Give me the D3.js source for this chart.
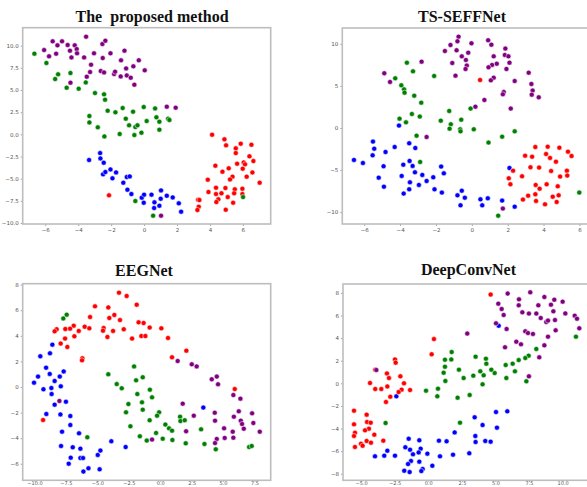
<!DOCTYPE html>
<html><head><meta charset="utf-8">
<script src="https://cdn.jsdelivr.net/npm/d3@7"></script>
<style>body{margin:0;background:#fff;}svg{display:block;}</style>
</head><body>
<svg id="c" width="587" height="487"></svg>
<script>
// ---------- DATA (t-SNE embeddings) ----------
const classColors = ["#0000ff", "#ff0000", "#008000", "#800080"]; // blue, red, green, purple

// The proposed method
const propBlue = [[-3.34,-2.89],[-2.67,-2.11],[-2.65,-2.71],[-2.45,-3.2],[-2.49,-4.51],[-2.35,-4.25],[-2.04,-3.95],[-1.92,-4.96],[-1.7,-4.29],[-1.26,-5.45],[-1.05,-4.81],[-0.87,-4.74],[-1.01,-6.24],[-0.77,-6.73],[-0.14,-7.14],[0,-6.8],[-0.02,-7.71],[0.45,-6.8],[0.63,-7.67],[0.61,-8.31],[0.93,-8.05],[1.01,-7.26],[1.03,-6.32],[1.38,-6.92],[1.74,-7.11],[2.11,-7.78],[2.25,-8.72]];
const propRed = [[-2.13,-6.88],[4.13,-0.04],[4.88,-0.56],[4.98,-1.24],[5.57,-1.58],[5.57,-2.11],[5.87,-1.05],[6.52,-1.17],[6.4,-2.48],[6.64,-3.01],[6.05,-3.16],[6.13,-3.38],[5.99,-3.87],[5.65,-3.31],[4.33,-3.53],[5.14,-3.83],[4.76,-4.21],[5.37,-4.77],[5.22,-5.08],[6.23,-4.77],[6.58,-4.29],[3.87,-5.11],[7.02,-5.45],[3.91,-6.5],[4.37,-6.02],[4.37,-6.73],[4.51,-7.33],[4.7,-6.65],[4.39,-7.63],[4.94,-6.05],[5.08,-7.07],[5.51,-6.2],[5.47,-6.65],[5.41,-7.71],[5.97,-6.13],[5.97,-6.73],[3.28,-7.37],[3.32,-8.16],[3.24,-8.53],[3.36,-7.41],[4.96,-8.5]];
const propGreen = [[-6.66,9.1],[-5.93,8.05],[-5.4,6.24],[-5.22,6.77],[-4.47,6.92],[-4.7,5.26],[-3.97,5.15],[-3.54,5.86],[-2.98,4.66],[-2.43,4.51],[-2.37,3.91],[-2.21,2.67],[-1.74,2.48],[-1.3,2.97],[-3.32,2.07],[-3.32,1.35],[-2.81,0.79],[-2.41,-0.23],[-1.48,0.04],[-1.11,1.77],[-0.91,1.02],[-0.67,2.56],[-0.53,0.83],[-0.4,1.02],[-0.59,-0.08],[-0.16,0.19],[-0.02,3.08],[0.16,1.5],[0.67,2.93],[0.75,1.92],[0.93,1.43],[0.93,0.53],[1.46,1.77],[1.54,1.62],[-0.53,-7.52],[0.55,-9.17],[6.01,-7.07]];
const propPurple = [[-6.07,9.51],[-5.77,8.8],[-5.55,10.49],[-5.34,9.1],[-5.26,10.04],[-4.98,10.49],[-4.64,10.08],[-4.5,9.44],[-4.41,8.68],[-4.21,10.04],[-4.09,9.62],[-4.07,9.14],[-4.47,5.83],[-3.64,8.68],[-3.52,11.02],[-3.48,6.5],[-3.28,7.03],[-3.22,7.86],[-3.04,9.14],[-2.63,7.14],[-2.51,8.61],[-2.53,10.19],[-2.43,6.99],[-2.35,10.56],[-2.04,9.14],[-1.82,6.8],[-1.76,7.07],[-1.42,6.54],[-1.4,8.35],[-1.19,9.44],[-1.09,7.44],[-1.05,6.65],[-0.81,6.39],[-0.65,7.67],[-0.59,5.6],[-0.32,8.35],[0.04,7.22],[1.38,3.12],[1.92,3.01],[1.03,-9.17]];

// TS-SEFFNet
const tsBlue = [[-6.57,-3.8],[-6.07,-4.16],[-5.51,-1.62],[-5.44,-2.46],[-5.53,-3.25],[-4.81,-2.85],[-5.19,-5.9],[-4.92,-4.55],[-4.9,-6.97],[-4.3,-2.26],[-4.06,0.28],[-3.49,-1.82],[-3.15,-2.38],[-3.47,-3.92],[-3.82,-4.36],[-3.3,-4.51],[-3.17,-5.27],[-3.91,-5.7],[-2.76,-5.58],[-3.45,-6.46],[-2.95,-6.77],[-2.52,-6.3],[-2.15,-5.86],[-3.49,-7.29],[-3.8,-7.8],[-2.08,-7.29],[-1.67,-7.68],[-1.71,-4.59],[-1.56,-5.39],[-0.8,-8],[-0.56,-7.45],[-0.39,-8.28],[-0.63,-9.19],[0.48,-8.48],[0.58,-9.19],[0.89,-8.36],[1.69,-8.63],[2.1,-4.75],[2.39,-9.35]];
const tsRed = [[0.46,5.7],[2.97,-3.29],[3.36,-3.41],[3.54,-2.26],[4.23,-2.22],[4.14,-3.09],[4.36,-3.56],[4.88,-2.34],[5.36,-2.81],[5.56,-3.33],[4.69,-4],[3.27,-4.67],[3.75,-4.71],[4.42,-5.11],[5.3,-5.07],[5.32,-5.66],[4.92,-5.78],[2.8,-5.74],[2.3,-5.07],[2.06,-5.98],[2.15,-6.69],[3.56,-6.77],[3.78,-7.21],[4.17,-6.69],[4.79,-6.93],[3.54,-7.88],[3.14,-8.04],[2.85,-8.51],[3.58,-8.67],[4.08,-9.07],[4.51,-8.16],[4.73,-8.79],[4.84,-8]];
const tsGreen = [[-3.62,7.76],[-3.28,6.73],[-4.27,5.9],[-3.93,5.07],[-3.78,4.59],[-3.75,4.2],[-3.21,3.84],[-2.82,3.01],[-2.1,6.18],[-4.03,1.11],[-3.67,0.67],[-3.34,1.66],[-2.9,1.35],[-3.08,-0.91],[-2.88,-4.04],[-1.26,2.02],[-1.17,0.44],[-1.73,0.87],[-1.24,-0.08],[-0.65,-0.16],[-0.63,-0.4],[-0.59,0.99],[-0.07,2.3],[0.11,-0.16],[1.69,-1.03],[2.39,-0.4],[0.93,-1.74],[1.47,-10.42],[5.99,-7.68]];
const tsPurple = [[-0.74,10.85],[-0.8,10.3],[-1.19,9.86],[-1.5,9.15],[-0.85,9.23],[-0.2,8.95],[-0.56,8.51],[-0.33,8.08],[-0.28,7.41],[-0.35,7.01],[-1.09,7.72],[-0.91,6.22],[-0.02,10.06],[0.91,10.42],[1.09,9.9],[1.87,9.43],[1.84,8.67],[2.04,8.51],[1.22,8.51],[2.1,7.76],[1.39,7.64],[1.13,7.49],[0.93,7.21],[1.93,7.01],[1.22,5.98],[1.06,5.66],[2.39,5.58],[1.78,4.28],[1.73,4],[0.7,3.33],[0.2,2.53],[2.17,2.3],[3.17,6.57],[3.32,5.23],[3.39,4.44],[3.34,3.96],[3.73,3.64],[-2.8,7.88],[-4.88,6.5],[-4.56,5.47],[-2.52,-1.07],[1.73,-9.58]];

// EEGNet
const eegBlue = [[-8.58,3.31],[-8.77,2.63],[-9.54,2.4],[-9.08,1.51],[-7.68,1.22],[-8.79,1.02],[-7.99,0.81],[-9.72,0.81],[-8.4,0.47],[-10.04,0.34],[-8.66,-0.08],[-7.91,0.05],[-9.29,-0.18],[-8.64,-0.55],[-8.4,-1.38],[-7.5,-1.15],[-9.06,-2.11],[-7.94,-2.14],[-7.15,-2.27],[-7.15,-2.97],[-7.81,-3.49],[-6.46,-3.62],[-7.89,-4.61],[-6.96,-4.71],[-6.35,-4.82],[-3.89,-4.24],[-2.75,-4.69],[-7.12,-5.52],[-6.35,-5.55],[-6.14,-5.55],[-4.97,-5.31],[-4.76,-4.97],[-7.28,-5.99],[-5.71,-6.35],[-6.11,-6.61],[-4.82,-6.43],[3.43,-1.61]];
const eegRed = [[-3.28,7.37],[-2.67,7.11],[-1.87,6.43],[-5.19,6.3],[-4.13,6.22],[-3.65,5.63],[-5.58,5.47],[-4.05,5.39],[-3.2,5.23],[-6.88,4.79],[-6.01,4.71],[-4.5,4.61],[-1.72,5.05],[-1.32,5],[-0.84,4.64],[0.09,4.58],[-5.64,4.58],[-4.55,4.4],[-3.75,4.38],[-2.9,4.51],[-6.48,4.38],[-7.17,4.56],[-7.55,4.53],[-8.24,4.51],[-8.4,4.35],[-6.83,3.96],[-7.57,3.78],[-4.2,3.91],[-2.24,3.78],[-1.5,3.98],[-1.18,3.98],[0.62,3.83],[-7.92,3.39],[-7.39,3.13],[-6.19,2.24],[-6.22,2.08],[0.94,2.32],[2.08,2.84],[-9.32,-2.58],[5.93,-0.16]];
const eegGreen = [[-7.71,5.36],[-7.44,5.65],[-4.13,0.99],[-3.46,0.23],[-3.06,-0.1],[-2.08,1.61],[-1.92,0.52],[-1.39,0.76],[-1.82,-0.55],[-0.82,-0.21],[-0.65,-0.81],[-2.53,-1.33],[-1.45,-1.2],[-1.39,-1.77],[-2.72,-1.98],[-0.84,-2.6],[-0.09,-1.98],[-0.25,-2.24],[-2.37,-3.07],[-1.62,-3.85],[-1.07,-4.19],[-0.33,-3.59],[0.41,-2.94],[0.7,-3.23],[0.94,-3.41],[0.2,-4.04],[0.97,-4.14],[1.58,-2.32],[1.61,-2.66],[1.95,-2.6],[2.03,-4.4],[3.25,-3.31],[3.52,-4.45],[4.42,-4.87],[7.07,-4.69],[7.28,-4.61],[-5.8,-3.93]];
const eegPurple = [[1.39,2.03],[2.51,1.77],[2.9,1.61],[4.1,0.6],[4.5,0.81],[4.6,0.21],[-8.02,-1.09],[1.79,-1.3],[2.67,-2.24],[2.06,-3.46],[4.34,-2.01],[4.36,-2.63],[5.08,-3.23],[5.77,-3.49],[5.82,-0.63],[6.38,-0.91],[6.25,-1.9],[5.86,-2.32],[6.41,-2.63],[6.51,-2.89],[6.65,-3.26],[7.31,-2.06],[7.41,-2.81],[7.92,-3.49],[4.5,-4.06],[4.36,-4.38],[5.13,-3.98],[5.82,-3.96],[-0.65,-4.11]];

// DeepConvNet
const dcBlue = [[5.24,5.1],[-2.38,-1.15],[5.04,-2.54],[5.88,-2.48],[5.11,-3.92],[4.04,-3.69],[3.45,-3.01],[3.5,-4.66],[3.52,-5.19],[4.24,-5.1],[4.64,-5.16],[1.96,-4.34],[3.05,-6.19],[1.84,-6.31],[1.36,-5.13],[0.79,-5.07],[0.87,-6.46],[0.3,-7.29],[-0.07,-6.22],[-0.67,-5.04],[-1.46,-4.9],[-1.71,-5.66],[-1.36,-5.87],[-0.57,-5.78],[-0.72,-6.11],[-1.14,-6.28],[-1.29,-6.87],[-0.67,-6.93],[-1.51,-7.14],[-1.79,-7.73],[-1.39,-7.85],[-0.42,-7.58],[-0.52,-7.76],[-2.48,-6.4],[-3.05,-5.96],[-3.28,-6.4],[-3.97,-6.46]];
const dcRed = [[4.64,7.85],[0.42,3.92],[0.25,2.57],[-2.48,2.12],[-2.43,1.83],[-3.95,1.21],[-3.08,0.88],[-2.93,0.47],[-2.08,0.62],[-4.34,0.03],[-1.81,0],[-3.95,-0.5],[-3.5,-0.5],[-3.05,-0.27],[-1.99,-0.56],[-2.21,-0.77],[-1.36,-0.59],[-2.83,-1.18],[-3.15,-1.65],[-5.53,-2.42],[-5.53,-3.63],[-4.59,-2.77],[-4.56,-3.42],[-4.29,-3.48],[-4.42,-4.01],[-5.46,-4.37],[-5.53,-4.66],[-4.71,-4.16],[-4.02,-4.54],[-4.59,-5.1],[-5.01,-5.34],[-4.89,-5.52],[-4.27,-5.25],[-5.46,-5.63],[-3.35,-5.07]];
const dcGreen = [[10.99,4.13],[8.04,3.04],[7.47,2.45],[7.22,2.24],[6.73,2.06],[6.28,1.74],[5.76,1.62],[6.45,1.06],[5.81,0.47],[7.3,0.18],[4.94,0.91],[4.69,1.21],[4.29,2.18],[4.32,1.74],[3.52,2.36],[3.87,1.06],[4.12,0.71],[4.04,-0.09],[3.35,0.68],[3.08,-1.03],[2.28,1.21],[2.63,0.47],[2.18,-1.27],[1.74,2.77],[1.71,2.12],[1.24,2.09],[1.24,1.47],[1.14,0.94],[1.27,0.21],[0.72,-0.47],[0.67,-1.15],[-0.17,-0.65],[2.36,-3.48],[-3.18,-3.51]];
const dcPurple = [[5.91,7.94],[7.59,8.05],[5.21,7.05],[5.46,6.58],[6.75,7.43],[6.73,6.9],[5.61,6.05],[7,6.28],[7.49,6.17],[8.64,7.64],[8.19,6.9],[9.38,7.4],[9.13,6.96],[10,7.23],[8.04,6.17],[8.37,5.78],[8.78,5.43],[8.91,5.55],[9.31,6.37],[9.43,5.6],[10.2,6.19],[10.9,5.99],[11.07,5.72],[11.24,4.87],[9.48,4.69],[8.91,4.13],[5.04,5.31],[5.83,4.81],[7.22,4.6],[7.42,4.45],[7.79,4.37],[6.55,3.69],[6.9,3.45],[5.71,3.19],[8.64,3.36],[8.26,2.3],[7.49,0.62],[2.9,4.4],[-3.87,1.18]];

// Titles and tick values
const titles = ["The  proposed method", "TS-SEFFNet", "EEGNet", "DeepConvNet"];
const propXTicks = [-6,-4,-2,0,2,4,6];
const propYTicks = [10,7.5,5,2.5,0,-2.5,-5,-7.5,-10];
const tsXTicks = [-6,-4,-2,0,2,4,6];
const tsYTicks = [10,5,0,-5,-10];
const eegXTicks = [-10,-7.5,-5,-2.5,0,2.5,5,7.5];
const eegYTicks = [8,6,4,2,0,-2,-4,-6];
const dcXTicks = [-5,-2.5,0,2.5,5,7.5,10];
const dcYTicks = [8,6,4,2,0,-2,-4,-6,-8];

// ---------- LAYOUT ----------
const panels = [
  {title: titles[0], series: [propBlue, propRed, propGreen, propPurple], order:[0,1,2,3],
   xd: [-7.37, 7.69], yd: [-10.11, 12.03], box: [22.7, 27.7, 270.7, 224], tx: 152, ty: 21.5,
   xt: propXTicks, yt: propYTicks, xf: d3.format(".0f"), yf: d3.format(".1f"), bottom: false},
  {title: titles[1], series: [tsBlue, tsRed, tsGreen, tsPurple], order:[0,1,2,3],
   xd: [-7.22, 7.87], yd: [-11.41, 11.88], box: [342.3, 28, 613, 224], tx: 462, ty: 21.5,
   xt: tsXTicks, yt: tsYTicks, xf: d3.format(".0f"), yf: d3.format(".0f"), bottom: false},
  {title: titles[2], series: [eegBlue, eegRed, eegGreen, eegPurple], order:[0,1,2,3],
   xd: [-10.94, 8.79], yd: [-7.29, 8.07], box: [22.7, 283.7, 270.7, 480.3], tx: 144, ty: 275.5,
   xt: eegXTicks, yt: eegYTicks, xf: d3.format(".1f"), yf: d3.format(".0f"), bottom: true},
  {title: titles[3], series: [dcBlue, dcRed, dcGreen, dcPurple], order:[0,1,2,3],
   xd: [-6.35, 13.6], yd: [-8.58, 8.79], box: [343, 284, 611, 480.3], tx: 468.5, ty: 275,
   xt: dcXTicks, yt: dcYTicks, xf: d3.format(".1f"), yf: d3.format(".0f"), bottom: true}
];

const svg = d3.select("#c");
const minus = s => s.replace("-", "\u2212");

panels.forEach(p => {
  const [x0, y0, x1, y1] = p.box;
  const x = d3.scaleLinear().domain(p.xd).range([x0, x1]);
  const y = d3.scaleLinear().domain(p.yd).range([y1, y0]);
  const g = svg.append("g");

  // axes
  const xa = g.append("g").attr("transform", `translate(0,${y1})`)
    .call(d3.axisBottom(x).tickValues(p.xt).tickSize(p.bottom ? 1.5 : 2).tickPadding(p.bottom ? 0 : 2)
      .tickFormat(d => minus(p.xf(d))));
  const ya = g.append("g").attr("transform", `translate(${x0},0)`)
    .call(d3.axisLeft(y).tickValues(p.yt).tickSize(2).tickPadding(2).tickFormat(d => minus(p.yf(d))));
  [xa, ya].forEach(a => {
    a.select(".domain").remove();
    a.selectAll("line").attr("stroke", "#666").attr("stroke-width", 0.6);
    a.selectAll("text").attr("fill", "#555").style("font-family", "DejaVu Sans").style("font-size", "5.5px");
  });
  if (p.bottom) xa.selectAll("text").style("font-size", "5px");

  // frame
  g.append("rect").attr("x", x0).attr("y", y0).attr("width", x1 - x0).attr("height", y1 - y0)
    .attr("fill", "none").attr("stroke", "#bdbdbd").attr("stroke-width", 1.6);

  // points
  p.order.forEach(ci => {
    g.append("g").selectAll("circle").data(p.series[ci]).join("circle")
      .attr("cx", d => x(d[0])).attr("cy", d => y(d[1])).attr("r", 2.5)
      .attr("fill", classColors[ci]).attr("stroke", "#fff").attr("stroke-width", 0.5);
  });

  // title
  svg.append("text").attr("x", p.tx).attr("y", p.ty).attr("text-anchor", "middle")
    .attr("xml:space", "preserve").style("white-space", "pre")
    .style("font-family", "Liberation Serif, Times New Roman, serif").style("font-weight", "bold")
    .style("font-size", "16px").attr("fill", "#111").text(p.title);
});
</script>
</body></html>
